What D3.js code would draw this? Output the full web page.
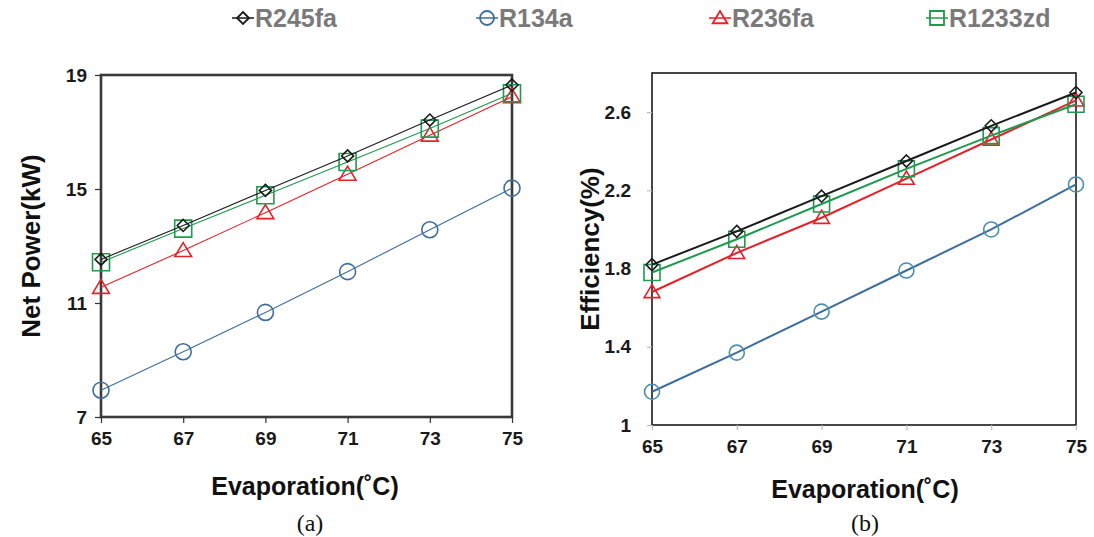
<!DOCTYPE html>
<html><head><meta charset="utf-8">
<script src="https://cdn.jsdelivr.net/npm/d3@7"></script>
<style>body{margin:0;background:#fff}svg{display:block}</style>
</head><body>
<svg id="c" width="1094" height="537"></svg>
<script>
const temps = [65, 67, 69, 71, 73, 75];
const seriesNames = ["R245fa", "R134a", "R236fa", "R1233zd"];
const seriesColors = ["#1a1a1a", "#3d6d9c", "#e52129", "#1f9a4f"];
const seriesSymbols = ["diamond", "circle", "triangle", "square"];

const powerR245fa  = [12.53, 13.72, 14.95, 16.16, 17.42, 18.65];
const powerR134a   = [7.94, 9.29, 10.67, 12.10, 13.57, 15.03];
const powerR236fa  = [11.55, 12.84, 14.17, 15.52, 16.89, 18.24];
const powerR1233zd = [12.43, 13.61, 14.78, 15.95, 17.12, 18.36];

const effR245fa  = [1.82, 1.99, 2.17, 2.35, 2.53, 2.70];
const effR134a   = [1.17, 1.37, 1.58, 1.79, 2.00, 2.23];
const effR236fa  = [1.68, 1.88, 2.06, 2.26, 2.46, 2.66];
const effR1233zd = [1.78, 1.95, 2.13, 2.31, 2.48, 2.64];

const powerTicks = [7, 11, 15, 19];
const effTicks = [1, 1.4, 1.8, 2.2, 2.6];
const xTicks = [65, 67, 69, 71, 73, 75];

const svg = d3.select("#c");
const font = "'Liberation Sans', Arial, sans-serif";

function symbolPath(type, size) {
  const s = size;
  if (type === "diamond") return `M0,${-s}L${s},0L0,${s}L${-s},0Z`;
  if (type === "circle") return d3.symbol(d3.symbolCircle, Math.PI * s * s)();
  if (type === "triangle") return `M0,${-s}L${s * 1.05},${s * 0.75}L${-s * 1.05},${s * 0.75}Z`;
  return `M${-s},${-s}H${s}V${s}H${-s}Z`;
}

function panel(opts) {
  const g = svg.append("g");
  const x = d3.scaleLinear().domain([65, 75]).range([opts.x0, opts.x1]);
  const y = d3.scaleLinear().domain(opts.yDomain).range([opts.y1, opts.y0]);

  g.append("rect").attr("x", opts.x0).attr("y", opts.y0)
    .attr("width", opts.x1 - opts.x0).attr("height", opts.y1 - opts.y0)
    .attr("fill", "none").attr("stroke", opts.frameColor).attr("stroke-width", opts.frameWidth);

  const yAxis = d3.axisLeft(y).tickValues(opts.yTicks).tickSize(opts.tickLen).tickPadding(opts.yPad)
    .tickFormat(d3.format(opts.yFmt));
  const ya = g.append("g").attr("transform", `translate(${opts.x0},0)`).call(yAxis);
  const xAxis = d3.axisBottom(x).tickValues(xTicks).tickSize(opts.tickLen).tickPadding(opts.xPad);
  const xa = g.append("g").attr("transform", `translate(0,${opts.y1})`).call(xAxis);
  [ya, xa].forEach(a => {
    a.select(".domain").remove();
    a.selectAll(".tick line").attr("stroke", opts.tickColor).attr("stroke-width", 1.2);
    a.selectAll("text").attr("font-family", font).attr("font-weight", "bold")
      .attr("font-size", opts.tickFont).attr("fill", "#1a1a1a");
  });

  const line = d3.line().x((d, i) => x(temps[i])).y(d => y(d));
  opts.order.forEach(k => {
    const vals = opts.data[k];
    const col = seriesColors[k];
    g.append("path").attr("d", line(vals)).attr("fill", "none")
      .attr("stroke", col).attr("stroke-width", opts.lineWidth);
    g.selectAll(null).data(vals).enter().append("path")
      .attr("transform", (d, i) => `translate(${x(temps[i])},${y(d)})`)
      .attr("d", symbolPath(seriesSymbols[k], opts.markSize[k]))
      .attr("fill", "none").attr("stroke", k === 1 ? opts.circColor : col)
      .attr("stroke-width", opts.markWidth);
  });

  g.append("text").attr("transform", `translate(${opts.yTitleX},${(opts.y0 + opts.y1) / 2}) rotate(-90)`)
    .attr("text-anchor", "middle").attr("font-family", font).attr("font-weight", "bold")
    .attr("font-size", 26).attr("fill", "#111").text(opts.yTitle);
  g.append("text").attr("x", opts.xTitleX).attr("y", opts.xTitleY)
    .attr("text-anchor", "middle").attr("font-family", font).attr("font-weight", "bold")
    .attr("font-size", 25).attr("fill", "#111").text("Evaporation(˚C)");
  g.append("text").attr("x", opts.capX).attr("y", 531)
    .attr("text-anchor", "middle").attr("font-family", "'Liberation Serif', 'Times New Roman', serif")
    .attr("font-size", 24).attr("fill", "#111").text(opts.caption);
}

panel({
  x0: 101, x1: 512, y0: 75, y1: 417, yDomain: [7, 19], yTicks: powerTicks, yFmt: "d",
  tickLen: 6, yPad: 8, xPad: 9, tickFont: 19, tickColor: "#333",
  frameColor: "#3a3a3a", frameWidth: 2.6,
  data: [powerR245fa, powerR134a, powerR236fa, powerR1233zd],
  order: [1, 2, 3, 0], lineWidth: 1.1, markWidth: 1.6, circColor: "#3d6d9c",
  markSize: [6, 8, 8, 8.5],
  yTitle: "Net Power(kW)", yTitleX: 40, xTitleX: 305, xTitleY: 495, caption: "(a)", capX: 310
});

panel({
  x0: 652, x1: 1076, y0: 73, y1: 425, yDomain: [1, 2.8], yTicks: effTicks, yFmt: ".1~f",
  tickLen: 5, yPad: 16, xPad: 10, tickFont: 19, tickColor: "#bbb",
  frameColor: "#1a1a1a", frameWidth: 1.6,
  data: [effR245fa, effR134a, effR236fa, effR1233zd],
  order: [1, 2, 3, 0], lineWidth: 2, markWidth: 1.6, circColor: "#4b8fae",
  markSize: [6, 7.5, 7.5, 8],
  yTitle: "Efficiency(%)", yTitleX: 599, xTitleX: 865, xTitleY: 498, caption: "(b)", capX: 865
});

const legendX = [243, 487, 720, 937];
const lg = svg.append("g");
seriesNames.forEach((name, k) => {
  const cx = legendX[k], cy = 18;
  lg.append("line").attr("x1", cx - 11).attr("x2", cx + 11).attr("y1", cy).attr("y2", cy)
    .attr("stroke", seriesColors[k]).attr("stroke-width", 1.5);
  lg.append("path").attr("transform", `translate(${cx},${cy})`)
    .attr("d", symbolPath(seriesSymbols[k], k === 0 ? 6 : 7))
    .attr("fill", "none").attr("stroke", seriesColors[k]).attr("stroke-width", 1.8);
  lg.append("text").attr("x", cx + 12).attr("y", cy + 9)
    .attr("font-family", font).attr("font-weight", "bold").attr("font-size", 25)
    .attr("fill", "#7a7a7a").text(name);
});
</script>
</body></html>
